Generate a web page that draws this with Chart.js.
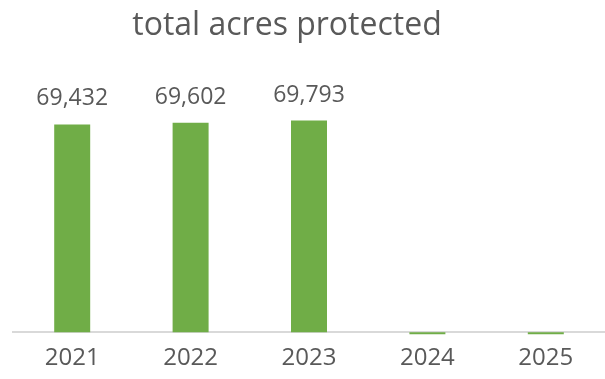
<!DOCTYPE html>
<html>
<head>
<meta charset="utf-8">
<script src="https://cdn.jsdelivr.net/npm/chart.js@4"></script>
<style>
  body { margin: 0; background: #fff; }
</style>
</head>
<body>
<canvas id="acres" width="605" height="379"></canvas>
<script>
var chartTitle = 'total acres protected';
var years = ['2021', '2022', '2023', '2024', '2025'];
var acresProtected = [69432, 69602, 69793, 0, 0];

// value axis starts above zero, so empty years hang just under the axis line
var axisFloor = 50000;
var axisCeil = 72000;

// heading, centred a little left of the canvas middle
var heading = {
    id: 'heading',
    afterDraw: function(chart) {
        var ctx = chart.ctx;
        ctx.save();
        ctx.font = '32px "Open Sans"';
        ctx.fillStyle = '#595959';
        ctx.textAlign = 'center';
        ctx.textBaseline = 'alphabetic';
        ctx.fillText(chartTitle, 287, 35);
        ctx.restore();
    }
};

// value labels above each bar (zero years stay blank)
var barLabels = {
    id: 'barLabels',
    afterDatasetsDraw: function(chart) {
        var ctx = chart.ctx;
        var meta = chart.getDatasetMeta(0);
        ctx.save();
        ctx.font = '23px "Open Sans"';
        ctx.fillStyle = '#595959';
        ctx.textAlign = 'center';
        ctx.textBaseline = 'alphabetic';
        meta.data.forEach(function(bar, i) {
            var v = acresProtected[i];
            if (!v) return;
            ctx.fillText(v.toLocaleString('en-US'), bar.x, bar.y - 19);
        });
        ctx.restore();
    }
};

document.addEventListener('DOMContentLoaded', function() {
    var ctx = document.getElementById('acres').getContext('2d');

    new Chart(ctx, {
        type: 'bar',
        data: {
            labels: years,
            datasets: [{
                data: acresProtected,
                base: axisFloor,
                backgroundColor: '#70AD47',
                borderWidth: 0,
                barPercentage: 0.304,
                categoryPercentage: 1,
                clip: 2
            }]
        },
        options: {
            responsive: false,
            animation: false,
            layout: {
                padding: { left: 13, right: 0, top: 97, bottom: -6 }
            },
            plugins: {
                legend: { display: false },
                tooltip: { enabled: false },
                title: { display: false }
            },
            scales: {
                x: {
                    z: 1,
                    grid: { display: false, drawTicks: false },
                    border: { display: true, color: '#D9D9D9', width: 2 },
                    ticks: {
                        color: '#595959',
                        padding: 12,
                        font: { family: 'Open Sans', size: 24 }
                    }
                },
                y: {
                    display: false,
                    min: axisFloor,
                    max: axisCeil
                }
            }
        },
        plugins: [heading, barLabels]
    });
});
</script>
</body>
</html>
